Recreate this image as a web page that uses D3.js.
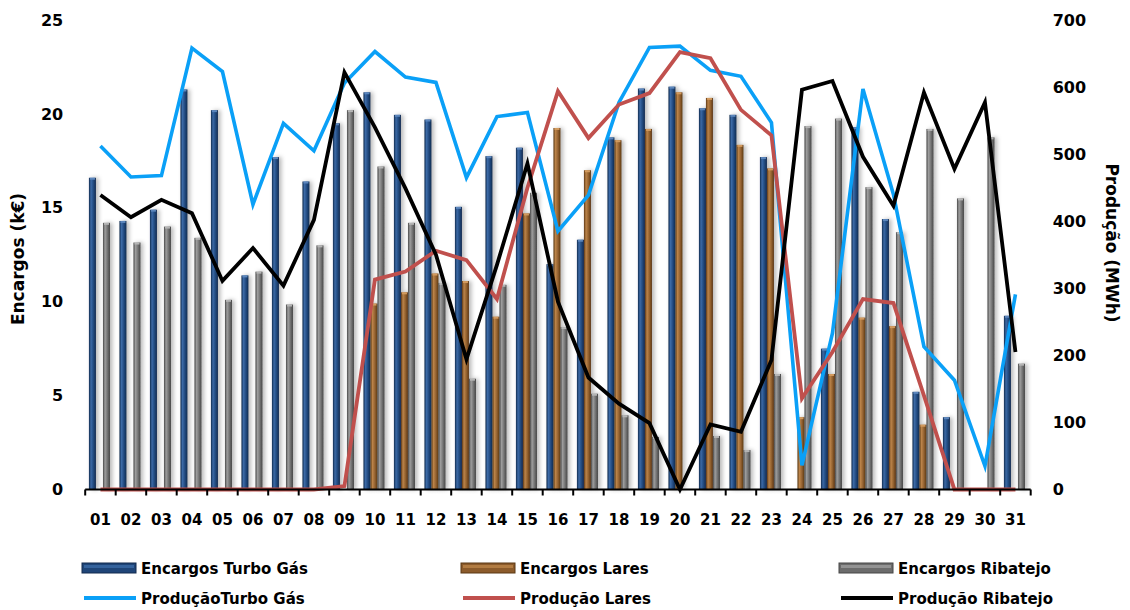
<!DOCTYPE html>
<html>
<head>
<meta charset="utf-8">
<script src="https://cdn.jsdelivr.net/npm/d3@7/dist/d3.min.js"></script>
<style>
  html, body { margin: 0; padding: 0; background: #fff; }
  svg { display: block; font-family: "DejaVu Sans", Verdana, sans-serif; }
</style>
</head>
<body>
<svg id="chart" width="1130" height="610"></svg>
<script>
// ---------- DATA ----------
const days = ["01","02","03","04","05","06","07","08","09","10","11","12","13","14","15","16","17","18","19","20","21","22","23","24","25","26","27","28","29","30","31"];

const encargosTurboGas = [16.6,14.3,14.9,21.3,20.2,11.4,17.7,16.4,19.5,21.15,19.95,19.7,15.05,17.75,18.2,12.0,13.3,18.75,21.35,21.45,20.3,19.95,17.7,0,7.5,19.3,14.4,5.2,3.85,0,9.25];
const encargosLares    = [0,0,0,0,0,0,0,0,0,9.9,10.5,11.5,11.1,9.2,14.7,19.25,17.0,18.6,19.2,21.15,20.85,18.35,17.1,3.85,6.15,9.15,8.7,3.45,0,0,0];
const encargosRibatejo = [14.2,13.15,14.0,13.4,10.1,11.6,9.85,13.0,20.2,17.2,14.2,11.0,5.9,10.9,15.8,8.65,5.1,3.95,2.8,0,2.85,2.1,6.15,19.35,19.75,16.1,13.7,19.2,15.5,18.75,6.7];

const producaoTurboGas = [512,466,468,658,623,425,546,505,606,653,615,607,465,556,562,385,439,577,659,661,625,616,547,36,233,597,440,213,163,35,291];
const producaoLares    = [0,0,0,0,0,0,0,0,5,313,325,356,342,284,450,594,524,574,591,652,643,566,528,136,205,284,278,140,0,0,0];
const producaoRibatejo = [439,406,432,412,311,360,304,402,622,540,449,350,194,335,486,280,167,128,99,0,97,86,193,596,609,496,423,592,478,577,205];

const leftTicks  = [0,5,10,15,20,25];
const rightTicks = [0,100,200,300,400,500,600,700];

const barSeries = [
  {name: "Encargos Turbo Gás", key: "tg", values: encargosTurboGas},
  {name: "Encargos Lares",     key: "la", values: encargosLares},
  {name: "Encargos Ribatejo",  key: "ri", values: encargosRibatejo}
];
const lineSeries = [
  {name: "ProduçãoTurbo Gás", values: producaoTurboGas, color: "#0AA0F7", width: 3.6},
  {name: "Produção Lares",    values: producaoLares,    color: "#C0504D", width: 3.8},
  {name: "Produção Ribatejo", values: producaoRibatejo, color: "#000000", width: 3.8}
];

// ---------- STYLE ----------
const barGrad = {
  tg: ["#132B4E", "#3B6AA6", "#1F4578", "#132B4E"],
  la: ["#5A3815", "#BC8449", "#8C5B2B", "#5A3815"],
  ri: ["#474747", "#9E9E9E", "#6C6C6C", "#474747"]
};
const capColor = { tg: "#5C86BC", la: "#D29A5E", ri: "#B5B5B5" };

// ---------- LAYOUT ----------
const svg = d3.select("#chart");
const plot = { left: 85.2, right: 1030.7, top: 20, bottom: 489.5 };

const x0 = d3.scaleBand().domain(days).range([plot.left, plot.right]).padding(0);
const groupW = x0.bandwidth() * 0.69;
const groupOff = (x0.bandwidth() - groupW) / 2 - 1;
const x1 = d3.scaleBand().domain(barSeries.map(s => s.key)).range([groupOff, groupOff + groupW]).padding(0);

const yL = d3.scaleLinear().domain([0, 25]).range([plot.bottom, plot.top]);
const yR = d3.scaleLinear().domain([0, 700]).range([plot.bottom, plot.top]);

// defs
const defs = svg.append("defs");
Object.entries(barGrad).forEach(([k, c]) => {
  const g = defs.append("linearGradient").attr("id", "g-" + k)
    .attr("x1", "0").attr("x2", "1").attr("y1", "0").attr("y2", "0");
  g.append("stop").attr("offset", "0%").attr("stop-color", c[0]);
  g.append("stop").attr("offset", "30%").attr("stop-color", c[1]);
  g.append("stop").attr("offset", "70%").attr("stop-color", c[2]);
  g.append("stop").attr("offset", "100%").attr("stop-color", c[3]);
});
const lg = defs.append("filter").attr("id", "shadow").attr("x", "-50%").attr("y", "-10%").attr("width", "250%").attr("height", "130%");
lg.append("feDropShadow").attr("dx", 2.5).attr("dy", 0).attr("stdDeviation", 2)
  .attr("flood-color", "#000").attr("flood-opacity", 0.28);

// ---------- BARS ----------
const barsG = svg.append("g");
barSeries.forEach(s => {
  const g = barsG.append("g");
  const data = days.map((d, i) => ({d, v: s.values[i]})).filter(o => o.v > 0);
  g.selectAll("rect.bar").data(data).join("rect")
    .attr("class", "bar")
    .attr("x", o => x0(o.d) + x1(s.key))
    .attr("width", x1.bandwidth())
    .attr("y", o => yL(o.v))
    .attr("height", o => yL(0) - yL(o.v))
    .attr("fill", "url(#g-" + s.key + ")")
    .attr("filter", "url(#shadow)");
  g.selectAll("rect.cap").data(data).join("rect")
    .attr("class", "cap")
    .attr("x", o => x0(o.d) + x1(s.key) + 1)
    .attr("width", x1.bandwidth() - 2)
    .attr("y", o => yL(o.v))
    .attr("height", 2)
    .attr("fill", capColor[s.key]);
});

// ---------- LINES ----------
const lineGen = d3.line()
  .x((v, i) => x0(days[i]) + x0.bandwidth() / 2)
  .y(v => yR(v));
lineSeries.forEach(s => {
  svg.append("path")
    .datum(s.values)
    .attr("d", lineGen)
    .attr("fill", "none")
    .attr("stroke", s.color)
    .attr("stroke-width", s.width)
    .attr("stroke-linejoin", "miter")
    .attr("stroke-miterlimit", 4);
});

// ---------- AXES ----------
const xAxis = d3.axisBottom(x0).tickSize(0).tickPadding(25);
const xg = svg.append("g").attr("transform", `translate(0,${plot.bottom})`).call(xAxis);
xg.select(".domain").remove();
xg.selectAll("text").attr("font-size", 15).attr("font-weight", "bold")
  .attr("font-family", "DejaVu Sans, sans-serif").attr("fill", "#000");
// axis baseline and boundary ticks
svg.append("line").attr("x1", plot.left).attr("x2", plot.right)
  .attr("y1", plot.bottom).attr("y2", plot.bottom)
  .attr("stroke", "#000").attr("stroke-width", 2);
const bounds = days.map(d => x0(d)).concat([plot.right]);
svg.append("g").selectAll("line").data(bounds).join("line")
  .attr("x1", b => b).attr("x2", b => b)
  .attr("y1", plot.bottom).attr("y2", plot.bottom + 6)
  .attr("stroke", "#000").attr("stroke-width", 2);

const yLAxis = d3.axisLeft(yL).tickValues(leftTicks).tickSize(0).tickPadding(22);
const ylg = svg.append("g").attr("transform", `translate(${plot.left},0)`).call(yLAxis);
ylg.select(".domain").remove();
ylg.selectAll("text").attr("font-size", 16).attr("font-weight", "bold")
  .attr("font-family", "DejaVu Sans, sans-serif").attr("fill", "#000");

const yRAxis = d3.axisRight(yR).tickValues(rightTicks).tickSize(0).tickPadding(22);
const yrg = svg.append("g").attr("transform", `translate(${plot.right},0)`).call(yRAxis);
yrg.select(".domain").remove();
yrg.selectAll("text").attr("font-size", 16).attr("font-weight", "bold")
  .attr("font-family", "DejaVu Sans, sans-serif").attr("fill", "#000");

// axis titles
svg.append("text")
  .attr("transform", "translate(24,259) rotate(-90)")
  .attr("text-anchor", "middle")
  .attr("font-size", 17).attr("font-weight", "bold").attr("fill", "#000")
  .text("Encargos (k€)");
svg.append("text")
  .attr("transform", "translate(1106,243) rotate(90)")
  .attr("text-anchor", "middle")
  .attr("font-size", 17).attr("font-weight", "bold").attr("fill", "#000")
  .text("Produção (MWh)");

// ---------- LEGEND ----------
const legX = [82, 461, 839];
const legY = [568, 598];
const leg = svg.append("g");
barSeries.forEach((s, i) => {
  const gx = legX[i], gy = legY[0];
  leg.append("rect").attr("x", gx).attr("y", gy - 5).attr("width", 54).attr("height", 10)
    .attr("fill", barGrad[s.key][2]).attr("stroke", barGrad[s.key][0]).attr("stroke-width", 1);
  leg.append("rect").attr("x", gx + 2).attr("y", gy - 3).attr("width", 50).attr("height", 3)
    .attr("fill", barGrad[s.key][1]).attr("opacity", 0.8);
  leg.append("text").attr("x", gx + 59).attr("y", gy + 5.5)
    .attr("font-size", 15).attr("font-weight", "bold").attr("fill", "#000")
    .text(s.name);
});
lineSeries.forEach((s, i) => {
  const gx = legX[i], gy = legY[1];
  leg.append("line").attr("x1", gx + 2).attr("x2", gx + 54).attr("y1", gy).attr("y2", gy)
    .attr("stroke", s.color).attr("stroke-width", 4);
  leg.append("text").attr("x", gx + 59).attr("y", gy + 5.5)
    .attr("font-size", 15).attr("font-weight", "bold").attr("fill", "#000")
    .text(s.name);
});
</script>
</body>
</html>
